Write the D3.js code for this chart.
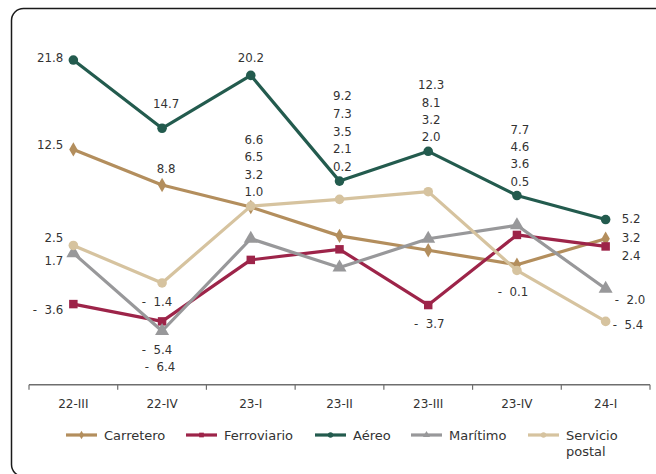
<!DOCTYPE html>
<html>
<head>
<meta charset="utf-8">
<script src="https://cdn.jsdelivr.net/npm/d3@7"></script>
<style>
  html, body { margin: 0; padding: 0; background: #fff; }
  svg { display: block; }
  text { font-family: "DejaVu Sans", sans-serif; fill: #333333; }
</style>
</head>
<body>
<svg id="chart" width="656" height="474"></svg>
<script>
// ---- data ----
const categories = ["22-III", "22-IV", "23-I", "23-II", "23-III", "23-IV", "24-I"];
const seriesNames = ["Carretero", "Ferroviario", "Aéreo", "Marítimo", "Servicio postal"];
const carretero   = [12.5, 8.8, 6.5, 3.5, 2.0, 0.5, 3.2];
const ferroviario = [-3.6, -5.4, 1.0, 2.1, -3.7, 3.6, 2.4];
const aereo       = [21.8, 14.7, 20.2, 9.2, 12.3, 7.7, 5.2];
const maritimo    = [1.7, -6.4, 3.2, 0.2, 3.2, 4.6, -2.0];
const postal      = [2.5, -1.4, 6.6, 7.3, 8.1, -0.1, -5.4];
const yTicks = [-12, 24]; // axis extent (hidden value axis)

// ---- style ----
const colors = ["#B38E5D", "#9D2449", "#235B4E", "#98989A", "#D6C39F"];
const markers = ["diamond", "square", "circle", "triangle", "circle"];
const seriesValues = [carretero, ferroviario, aereo, maritimo, postal];

// label placement: per series per category: [mode, dx, dy]
// mode: L = right-aligned, R = left-aligned, C = centered, S = stacked group
const labelLayout = [
  [["L",-10,-4],["C",4,-16],["S"],["S"],["S"],["S"],["R",16,-1]],
  [["L",-10,6],["C",-5,29],["S"],["S"],["C",1,19],["S"],["R",16,10]],
  [["L",-10,-2],["C",4,-24],["C",0,-17],["S"],["S"],["S"],["R",16,-1]],
  [["L",-10,8],["C",-2,36],["S"],["S"],["S"],["S"],["R",9,11]],
  [["L",-10,-7],["C",-5,19],["S"],["S"],["S"],["C",-4,22],["R",7,4]]
];

const svg = d3.select("#chart");

// frame
svg.append("rect")
  .attr("x", 11.5).attr("y", 8.5)
  .attr("width", 720).attr("height", 468)
  .attr("rx", 12).attr("ry", 12)
  .attr("fill", "none").attr("stroke", "#1a1a1a").attr("stroke-width", 1.5);

const x = d3.scaleBand().domain(categories).range([29, 650]);
const y = d3.scaleLinear().domain(yTicks).range([384.8, 38.9]);
const cx = c => x(c) + x.bandwidth() / 2;

// category axis
const axisY = y(yTicks[0]);
const ax = svg.append("g");
ax.append("line")
  .attr("x1", x.range()[0]).attr("x2", x.range()[1])
  .attr("y1", axisY).attr("y2", axisY)
  .attr("stroke", "#6e6e6e").attr("stroke-width", 1.5);
const bounds = categories.map(c => x(c)).concat([x.range()[1]]);
ax.selectAll("line.tick").data(bounds).join("line")
  .attr("class", "tick")
  .attr("x1", d => d).attr("x2", d => d)
  .attr("y1", axisY).attr("y2", axisY + 5)
  .attr("stroke", "#6e6e6e").attr("stroke-width", 1.2);
ax.selectAll("text").data(categories).join("text")
  .attr("x", d => cx(d)).attr("y", axisY + 19)
  .attr("text-anchor", "middle").attr("dominant-baseline", "central")
  .attr("font-size", 12)
  .text(d => d);

function markerPath(type, size) {
  const map = { diamond: d3.symbolDiamond, square: d3.symbolSquare, circle: d3.symbolCircle, triangle: d3.symbolTriangle };
  return d3.symbol().type(map[type]).size(size)();
}
const markerSize = { diamond: 60, square: 72, circle: 72, triangle: 85 };

// lines + markers
const line = d3.line().x((d, i) => cx(categories[i])).y(d => y(d));
seriesValues.forEach((vals, s) => {
  const g = svg.append("g");
  g.append("path").attr("d", line(vals))
    .attr("fill", "none").attr("stroke", colors[s]).attr("stroke-width", 3.2)
    .attr("stroke-linejoin", "round");
  g.selectAll("path.m").data(vals).join("path")
    .attr("class", "m")
    .attr("d", markerPath(markers[s], markerSize[markers[s]]))
    .attr("transform", (d, i) => `translate(${cx(categories[i])},${y(d)})`)
    .attr("fill", colors[s]);
});

// labels
const fmt = v => v < 0 ? "-\u00A0\u00A0" + Math.abs(v).toFixed(1) : v.toFixed(1);
const lbl = svg.append("g");
function addLabel(xp, yp, anchor, v) {
  lbl.append("text").attr("x", xp).attr("y", yp)
    .attr("text-anchor", anchor).attr("dominant-baseline", "central")
    .attr("font-size", 11.8)
    .text(fmt(v));
}
categories.forEach((c, i) => {
  const stack = [];
  seriesValues.forEach((vals, s) => {
    const L = labelLayout[s][i];
    const v = vals[i];
    if (L[0] === "S") { stack.push(v); return; }
    const anchor = L[0] === "L" ? "end" : L[0] === "R" ? "start" : "middle";
    addLabel(cx(c) + L[1], y(v) + L[2], anchor, v);
  });
  if (stack.length) {
    stack.sort((a, b) => b - a);
    const topPt = y(stack[0]);
    const gap = stack.length > 4 ? 17.8 : 17.3;
    stack.forEach((v, k) => {
      const yy = topPt - 14 - (stack.length - 1 - k) * gap;
      addLabel(cx(c) + 3, yy, "middle", v);
    });
  }
});

// legend
const legendItems = [
  { name: "Carretero", x: 66 },
  { name: "Ferroviario", x: 186 },
  { name: "Aéreo", x: 315 },
  { name: "Marítimo", x: 411 },
  { name: "Servicio postal", x: 528 }
];
const lg = svg.append("g");
legendItems.forEach((it, s) => {
  const ly = 435;
  lg.append("line").attr("x1", it.x).attr("x2", it.x + 31)
    .attr("y1", ly).attr("y2", ly)
    .attr("stroke", colors[s]).attr("stroke-width", 3.2);
  lg.append("path").attr("d", markerPath(markers[s], 22))
    .attr("transform", `translate(${it.x + 15.5},${ly})`).attr("fill", colors[s]);
  const words = it.name === "Servicio postal" ? ["Servicio", "postal"] : [it.name];
  words.forEach((w, k) => {
    lg.append("text").attr("x", it.x + 38).attr("y", ly + k * 16)
      .attr("dominant-baseline", "central").attr("font-size", 13)
      .text(w);
  });
});
</script>
</body>
</html>
